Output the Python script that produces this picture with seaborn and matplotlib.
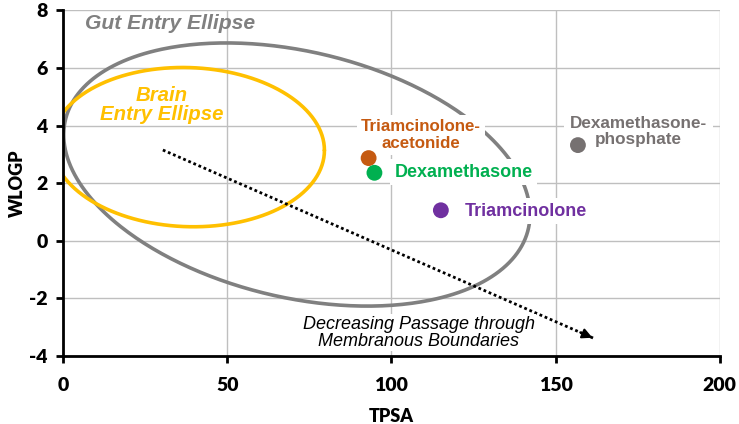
import numpy as np
import pandas as pd
import matplotlib
matplotlib.use("Agg")
import matplotlib.pyplot as plt
import seaborn as sns

# ---- data ----
compounds = ["Triamcinolone-acetonide", "Dexamethasone", "Triamcinolone", "Dexamethasone-phosphate"]
tpsa = [93.06, 94.83, 115.06, 156.8]
wlogp = [2.87, 2.36, 1.06, 3.32]
point_colors = ["#C55A11", "#00B050", "#7030A0", "#767171"]
labels = ["Triamcinolone-\nacetonide", "Dexamethasone", "Triamcinolone", "Dexamethasone-\nphosphate"]

x_ticks = [0, 50, 100, 150, 200]
y_ticks = [-4, -2, 0, 2, 4, 6, 8]

# ellipse parameters: center x, center y, half-width, half-height term, shear term
gut_ellipse = [71.2, 2.30, 71.0, 4.35, -1.38]
brain_ellipse = [38.1, 3.25, 41.5, 2.76, -0.11]

arrow_start = [30.4, 3.15]
arrow_end = [162.0, -3.40]

sns.set_theme(style="white")
plt.rcParams["font.family"] = ["Liberation Sans", "DejaVu Sans"]
plt.rcParams["axes.unicode_minus"] = False

fig = plt.figure(figsize=(7.39, 4.24), dpi=100)
ax = fig.add_axes([0.0853, 0.160, 0.974 - 0.0853, 0.976 - 0.160])

df = pd.DataFrame({"TPSA": tpsa, "WLOGP": wlogp, "Compound": compounds})

ax.set_xlim(0, 200)
ax.set_ylim(-4, 8)
ax.set_xticks(x_ticks)
ax.set_yticks(y_ticks)
ax.grid(True, color="#BFBFBF", lw=1.0, zorder=0)
ax.set_axisbelow(True)

t = np.linspace(0, 2 * np.pi, 400)
def ellipse(p):
    cx, cy, a, b, k = p
    return cx + a * np.cos(t), cy + b * np.sin(t) + k * np.cos(t)

gx, gy = ellipse(gut_ellipse)
bx, by = ellipse(brain_ellipse)
ax.plot(gx, gy, color="#808080", lw=2.6, zorder=2)
ax.plot(bx, by, color="#FFC000", lw=2.6, zorder=2)

# arrow
ax.plot([arrow_start[0], arrow_end[0]], [arrow_start[1], arrow_end[1]],
        color="black", lw=2.0, linestyle=(0, (1, 1)), zorder=3)
dx = arrow_end[0] - arrow_start[0]
dy = arrow_end[1] - arrow_start[1]
ax.annotate("", xy=(arrow_end[0], arrow_end[1]),
            xytext=(arrow_end[0] - 0.04 * dx, arrow_end[1] - 0.04 * dy),
            arrowprops=dict(arrowstyle="-|>,head_length=0.5,head_width=0.25",
                            color="black", lw=1.5), zorder=3)

sns.scatterplot(data=df, x="TPSA", y="WLOGP", hue="Compound", palette=point_colors,
                s=130, edgecolor="none", legend=False, ax=ax, zorder=6)

box = dict(boxstyle="square,pad=0.25", fc="white", ec="none")
ax.text(109, 3.67, labels[0], color=point_colors[0], fontsize=12.2, fontweight="bold",
        ha="center", va="center", linespacing=1.15, bbox=box, zorder=5)
ax.text(101, 2.38, labels[1], color=point_colors[1], fontsize=13, fontweight="bold",
        ha="left", va="center", bbox=box, zorder=5)
ax.text(122.3, 1.03, labels[2], color=point_colors[2], fontsize=13, fontweight="bold",
        ha="left", va="center", bbox=box, zorder=5)
ax.text(175.2, 3.8, labels[3], color=point_colors[3], fontsize=12.3, fontweight="bold",
        ha="center", va="center", linespacing=1.1,
        bbox=dict(boxstyle="square,pad=0.35", fc="white", ec="none"), zorder=5)

ax.text(6.6, 7.55, "Gut Entry Ellipse", color="#808080", fontsize=15.2,
        fontweight="bold", style="italic", ha="left", va="center", zorder=5)
ax.text(30, 4.7, "Brain\nEntry Ellipse", color="#FFC000", fontsize=14.7,
        fontweight="bold", style="italic", ha="center", va="center",
        linespacing=1.0, zorder=5)
ax.text(108.3, -3.18, "Decreasing Passage through\nMembranous Boundaries", color="black",
        fontsize=13, style="italic", ha="center", va="center", linespacing=1.0,
        bbox=dict(boxstyle="square,pad=0.1", fc="white", ec="none"), zorder=5)

for s in ["top", "right"]:
    ax.spines[s].set_visible(False)
for s in ["left", "bottom"]:
    ax.spines[s].set_color("black")
    ax.spines[s].set_linewidth(2)
    ax.spines[s].set_zorder(7)
ax.tick_params(axis="x", which="major", direction="out", length=5, width=2,
               color="black", bottom=True, pad=10)
ax.tick_params(axis="y", which="major", direction="out", length=5, width=2,
               color="black", left=True, pad=6)
for lab in ax.get_xticklabels() + ax.get_yticklabels():
    lab.set_fontfamily("Lato")
    lab.set_fontweight("heavy")
    lab.set_fontsize(14)
    lab.set_color("black")

ax.set_xlabel("TPSA", fontfamily="Lato", fontweight="heavy", fontsize=13, color="black", labelpad=10)
ax.set_ylabel("WLOGP", fontfamily="Lato", fontweight="heavy", fontsize=13, color="black", labelpad=2)

fig.savefig("out.png", dpi=100)
